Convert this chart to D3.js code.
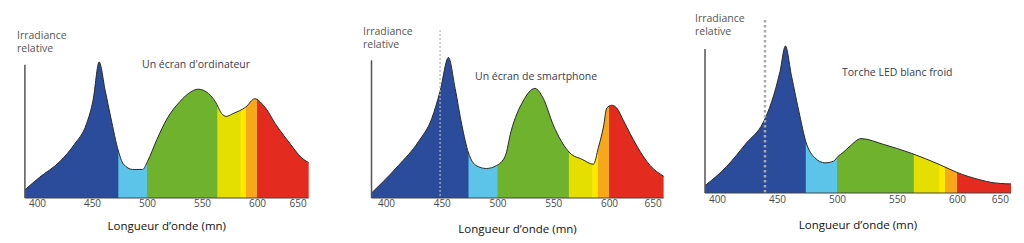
<!DOCTYPE html>
<html>
<head>
<meta charset="utf-8">
<script src="https://cdn.jsdelivr.net/npm/d3@7"></script>
<style>
  body { margin: 0; background: #fff; }
  svg { display: block; }
  text { font-family: "Open Sans", sans-serif; }
</style>
</head>
<body>
<div id="chart"></div>
<script>

// Spectra (wavelength in nm, relative irradiance 0-100)
const ordiNm  = [389, 402, 421, 434, 445, 451, 456.5, 462, 467, 474, 478.5, 487, 496, 500.5, 509, 518, 530, 538, 546.5, 554, 562, 568, 572, 578, 590, 598, 606, 618, 630, 640, 647];
const ordiVal = [6, 15, 27, 39.5, 54.5, 72, 100, 79, 59.5, 34.5, 25, 21, 21, 27, 43, 58, 71, 77, 80, 78, 71, 62, 60, 62, 67, 73, 68, 53, 40, 30, 26];

const phoneNm  = [387, 411, 429, 441, 448.5, 456, 462, 468, 474, 481, 490, 499, 507, 512, 523, 533.5, 541, 550, 565, 576, 586, 590.5, 595, 598, 602.5, 607, 613, 625, 637, 649];
const phoneVal = [3.5, 23, 40, 56.5, 76, 100, 78, 52, 32, 23, 21, 23, 30, 47, 69, 78, 71, 52, 32, 27.5, 24, 36, 50.5, 64, 66, 64, 55, 37, 23, 15.5];

const ledNm  = [390, 408, 424.5, 438.5, 445.5, 452.5, 457, 462, 469, 474, 481.5, 490, 497, 501, 505, 511, 520, 539, 562, 585, 600, 619, 630, 636, 645];
const ledVal = [5, 18, 34, 48, 62, 82.6, 100, 80, 52.6, 35, 24, 20.5, 21.6, 25, 27.5, 32, 37, 33, 27, 19.5, 14, 9, 7, 6.5, 6.2];

// colour bands (start wavelength of each band)
const bandStarts = [0, 474, 500, 564, 585, 590, 600];
const bandColors = ["#2b4c9b", "#5cc4e8", "#6fb22e", "#e4df00", "#fbea00", "#f6a81a", "#e42b20"];

const tickValues = [400, 450, 500, 550, 600, 650];

const panels = [
  {nm: ordiNm, val: ordiVal, title: "Un écran d'ordinateur",
   x0: 37, x600: 257, base: 198, peak: 62,
   irrX: 17, irrY: 39, titleX: 142, titleY: 68, tickY: 207, axTitleY: 230, dotted: null},
  {nm: phoneNm, val: phoneVal, title: "Un écran de smartphone",
   x0: 386, x600: 609, base: 198, peak: 57.5,
   irrX: 363, irrY: 35, titleX: 475, titleY: 80, tickY: 207, axTitleY: 233,
   dotted: {nm: 448.5, top: 30, w: 1.2, color: "#b5b5b5", dash: "2,2"}},
  {nm: ledNm, val: ledVal, title: "Torche LED blanc froid",
   x0: 717, x600: 957, base: 193, peak: 46,
   irrX: 695, irrY: 22, titleX: 842, titleY: 76, tickY: 203, axTitleY: 229,
   dotted: {nm: 440, top: 20, w: 2.5, color: "#aaa", dash: "2.5,2.5"}}
];

const svg = d3.select("#chart").append("svg")
  .attr("width", 1024)
  .attr("height", 243);

panels.forEach(function(p, i) {
  const x = d3.scaleLinear().domain([400, 600]).range([p.x0, p.x600]);
  const y = d3.scaleLinear().domain([0, 100]).range([p.base, p.peak]);
  const data = p.nm.map((d, j) => ({nm: d, v: p.val[j]}));
  const first = p.nm[0], last = p.nm[p.nm.length - 1];

  const g = svg.append("g");

  const area = d3.area()
    .x(d => x(d.nm))
    .y0(y(0))
    .y1(d => y(d.v))
    .curve(d3.curveMonotoneX);

  const line = d3.line()
    .x(d => x(d.nm))
    .y(d => y(d.v))
    .curve(d3.curveMonotoneX);

  g.append("clipPath").attr("id", "clip" + i)
    .append("path").attr("d", area(data));

  // coloured bands clipped by the spectrum
  const bands = g.append("g").attr("clip-path", "url(#clip" + i + ")");
  bandStarts.forEach(function(s, k) {
    const a = Math.max(s, first);
    const b = k + 1 < bandStarts.length ? bandStarts[k + 1] : last;
    bands.append("rect")
      .attr("x", x(a))
      .attr("y", y(100) - 2)
      .attr("width", x(b) - x(a) + 0.5)
      .attr("height", y(0) - y(100) + 2)
      .attr("fill", bandColors[k]);
  });

  g.append("path")
    .attr("d", line(data))
    .attr("fill", "none")
    .attr("stroke", "#2a2a2a")
    .attr("stroke-width", 1);

  // dotted marker line
  if (p.dotted) {
    g.append("line")
      .attr("x1", x(p.dotted.nm)).attr("x2", x(p.dotted.nm))
      .attr("y1", p.dotted.top).attr("y2", y(0))
      .attr("stroke", p.dotted.color)
      .attr("stroke-width", p.dotted.w)
      .attr("stroke-dasharray", p.dotted.dash);
  }

  // y axis line
  g.append("line")
    .attr("x1", x(first)).attr("x2", x(first))
    .attr("y1", y(0)).attr("y2", y(98))
    .attr("stroke", "#555")
    .attr("stroke-width", 1.5);

  // x axis
  const xAxis = g.append("g")
    .attr("transform", "translate(0," + y(0) + ")")
    .call(d3.axisBottom(x).tickValues(tickValues).tickSize(0).tickPadding(0).tickFormat(d3.format("d")));
  xAxis.select(".domain")
    .attr("d", "M" + x(first) + ",0H" + x(last))
    .attr("stroke", "#444");
  xAxis.selectAll("text")
    .attr("y", p.tickY - y(0))
    .attr("dy", null)
    .attr("fill", "#4a4a4a")
    .style("font-family", "'Open Sans', sans-serif")
    .style("font-size", "10px");
  // the last label sits flush with the end of the axis, as in the picture
  xAxis.selectAll(".tick").filter(d => d > last)
    .attr("transform", "translate(" + (x(last) - 2) + ",0)")
    .select("text").attr("text-anchor", "end");

  // labels
  g.append("text").attr("x", p.irrX).attr("y", p.irrY)
    .attr("fill", "#555").style("font-size", "10.5px").text("Irradiance");
  g.append("text").attr("x", p.irrX).attr("y", p.irrY + 13)
    .attr("fill", "#555").style("font-size", "10.5px").text("relative");

  g.append("text").attr("x", p.titleX).attr("y", p.titleY)
    .attr("fill", "#3b3b50").style("font-size", "10.5px").text(p.title);

  g.append("text")
    .attr("x", (x(first) + x(last)) / 2)
    .attr("y", p.axTitleY)
    .attr("text-anchor", "middle")
    .attr("fill", "#111")
    .style("font-size", "11.5px")
    .text("Longueur d’onde (mn)");
});

</script>
</body>
</html>
